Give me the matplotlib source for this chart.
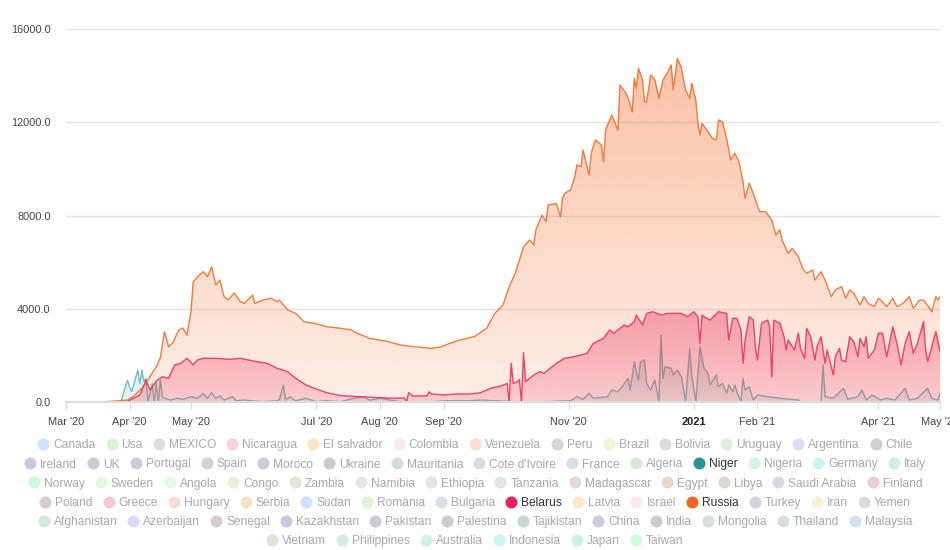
import numpy as np
import matplotlib
matplotlib.use('Agg')
import matplotlib.pyplot as plt
import matplotlib.dates as mdates
from matplotlib.colors import to_rgb
from matplotlib.lines import Line2D

plt.rcParams['font.family'] = ['Liberation Sans', 'DejaVu Sans']

START = np.datetime64('2020-03-01')

# ---------------- data (days since 2020-03-01, daily new cases) ----------------
russia_days = [0, 10, 17, 20, 24, 27, 30, 33, 36, 39, 41, 44, 46, 48, 50, 52, 55, 57, 59, 61, 62, 65, 67, 69, 71, 73,
               75, 77, 79, 82, 85, 87, 91, 92, 96, 100, 103, 104, 108, 112, 116, 121, 127, 134, 139, 142, 148, 157,
               163, 170, 178, 183, 187, 192, 199, 205, 209, 213, 216, 219, 223, 226, 228, 229, 232, 234, 235, 239,
               241, 242, 243, 246, 248, 249, 251, 252, 255, 256, 258, 261, 262, 263, 265, 266, 269, 270, 273, 274,
               276, 277, 278, 279, 281, 282, 283, 285, 287, 289, 291, 293, 295, 296, 298, 300, 301, 302, 304, 305,
               307, 308, 309, 310, 313, 315, 317, 318, 320, 322, 324, 326, 328, 330, 331, 333, 335, 338, 341, 344,
               346, 348, 349, 352, 354, 357, 359, 361, 364, 365, 368, 370, 373, 375, 378, 380, 382, 384, 387, 389,
               391, 394, 396, 398, 400, 403, 405, 408, 411, 413, 416, 418, 421, 422, 424, 425, 426]
russia_vals = [0, 5, 10, 20, 40, 60, 86, 250, 500, 800, 1100, 1515, 1900, 3016, 2370, 2530, 3090, 3170, 2870, 3950,
               5160, 5450, 5590, 5375, 5800, 5020, 5230, 4520, 4375, 4675, 4300, 4230, 4590, 4230, 4375, 4450, 4300,
               4375, 3950, 3800, 3445, 3375, 3230, 3160, 3090, 2950, 2730, 2590, 2445, 2370, 2300, 2370, 2515, 2660,
               2800, 3160, 3800, 4160, 4950, 5520, 6660, 6950, 6735, 7380, 8020, 7735, 8450, 8520, 7950, 8740, 8950,
               9095, 9665, 10170, 10095, 10810, 9740, 10670, 11240, 11025, 10310, 11670, 12100, 12310, 11670, 13600,
               13240, 13030, 12450, 13890, 13460, 14320, 13815, 12880, 12880, 14030, 13815, 13030, 13815, 14100,
               14460, 13385, 14745, 14320, 13815, 13385, 13030, 13675, 12950, 11955, 11455, 11955, 11595, 11310,
               11240, 12100, 12025, 11310, 10380, 10670, 10310, 9450, 8740, 9380, 8950, 8165, 8165, 7810, 7165,
               7380, 6950, 6380, 6590, 6230, 5735, 5520, 5660, 5230, 5590, 5230, 4520, 4805, 4950, 4450, 4805, 4660,
               4160, 4520, 4230, 4090, 4450, 4300, 4090, 4450, 4090, 4230, 4520, 4020, 4375, 4375, 4020, 3875, 4520,
               4375, 4520]

belarus_days = [0, 25, 30, 36, 39, 41, 44, 47, 50, 53, 56, 59, 62, 64, 67, 73, 80, 85, 93, 98, 103, 108, 112, 117,
                121, 127, 134, 143, 153, 161, 165, 166, 167, 169, 176, 177, 178, 184, 191, 197, 202, 207, 212, 215,
                216, 217, 218, 220, 221, 222, 223, 224, 226, 228, 231, 233, 236, 239, 243, 246, 251, 254, 257, 262,
                265, 267, 270, 272, 274, 277, 278, 281, 283, 286, 290, 293, 300, 303, 306, 308, 309, 310, 311, 314,
                318, 322, 323, 325, 327, 329, 330, 331, 333, 335, 336, 337, 339, 342, 343, 344, 345, 348, 350, 351,
                352, 355, 357, 358, 360, 361, 363, 365, 366, 368, 370, 371, 374, 375, 377, 378, 380, 382, 384, 386,
                387, 389, 390, 391, 394, 396, 398, 400, 403, 405, 407, 409, 411, 413, 415, 418, 419, 420, 422, 424,
                426]
belarus_vals = [0, 0, 30, 300, 940, 515, 900, 1085, 1015, 1590, 1660, 1875, 1590, 1800, 1875, 1875, 1830, 1875, 1730,
                1660, 1445, 1300, 1015, 730, 590, 400, 270, 230, 185, 160, 170, 0, 400, 260, 260, 440, 345, 300, 345,
                345, 400, 590, 685, 800, 0, 1660, 800, 870, 970, 0, 2115, 870, 1015, 1160, 1300, 1230, 1445, 1660,
                1875, 1915, 2015, 2090, 2515, 2730, 3090, 2950, 3160, 3300, 3230, 3445, 3730, 3300, 3800, 3875, 3730,
                3800, 3800, 3660, 3875, 3660, 2515, 3730, 3660, 3515, 3875, 3800, 2660, 3590, 3590, 3090, 1660, 2660,
                3660, 3515, 2370, 1800, 3375, 3515, 3230, 1085, 3515, 3375, 2800, 2230, 2660, 2230, 2950, 2300, 1875,
                3160, 2800, 1800, 2370, 2800, 1660, 2230, 1160, 1945, 2300, 1800, 1730, 2800, 2590, 1945, 2730, 2370,
                2800, 1875, 2230, 2950, 2950, 1945, 3230, 2515, 1590, 2515, 3016, 2090, 2515, 3445, 2230, 1730, 2370,
                3016, 2160]

niger_days = [0, 25, 27, 30, 31, 32, 35, 36, 37, 38, 39, 40, 42, 43, 44, 45, 46, 47, 48, 51, 54, 57, 61, 64, 67, 69,
              71, 73, 75, 77, 81, 83, 87, 90, 96, 103, 104, 106, 107, 109, 112, 117, 122, 127, 134, 140, 145, 148,
              153, 163, 170, 179, 186, 197, 202, 218, 235, 246, 249, 252, 255, 257, 261, 264, 266, 269, 271, 274,
              275, 277, 278, 279, 280, 282, 283, 285, 287, 289, 290, 291, 292, 295, 296, 298, 300, 302, 304, 305,
              307, 309, 311, 313, 314, 317, 318, 320, 322, 323, 325, 326, 327, 329, 330, 331, 333, 335, 337, 342,
              348, 357, 358, 368, 369, 370, 374, 379, 381, 386, 388, 390, 393, 397, 400, 404, 409, 411, 415, 420,
              422, 425, 426]
niger_vals = [0, 0, 86, 940, 655, 440, 1370, 800, 1370, 870, 1015, 0, 800, 0, 800, 0, 940, 230, 160, 85, 160, 115, 230,
              160, 370, 160, 400, 160, 260, 85, 230, 55, 85, 55, 15, 55, 100, 730, 85, 230, 55, 160, 15, 55, 15, 160,
              230, 80, 160, 15, 15, 15, 55, 55, 85, 15, 15, 55, 230, 115, 370, 160, 200, 230, 515, 440, 655, 1015,
              515, 1730, 1300, 940, 1730, 1800, 800, 515, 940, 15, 2875, 1015, 1515, 1445, 1160, 1370, 1085, 15,
              2300, 1160, 15, 2370, 1445, 1230, 730, 1160, 655, 800, 370, 730, 440, 730, 440, 0, 1015, 515, 655, 85,
              300, 230, 160, 85, 0, 0, 1590, 230, 160, 590, 115, 230, 515, 85, 300, 85, 160, 85, 590, 85, 160, 590,
              160, 85, 370]

# axis ticks
x_tick_dates = ['2020-03-01', '2020-04-01', '2020-05-01', '2020-07-01', '2020-08-01', '2020-09-01',
                '2020-11-01', '2021-01-01', '2021-02-01', '2021-04-01', '2021-05-01']
x_tick_labels = ["Mar '20", "Apr '20", "May '20", "Jul '20", "Aug '20", "Sep '20",
                 "Nov '20", "2021", "Feb '21", "Apr '21", "May '21"]
y_ticks = [0, 4000, 8000, 12000, 16000]

# legend
countries = ['Canada', 'Usa', 'MEXICO', 'Nicaragua', 'El salvador', 'Colombia', 'Venezuela', 'Peru', 'Brazil',
             'Bolivia', 'Uruguay', 'Argentina', 'Chile',
             'Ireland', 'UK', 'Portugal', 'Spain', 'Moroco', 'Ukraine', 'Mauritania', "Cote d'Ivoire", 'France',
             'Algeria', 'Niger', 'Nigeria', 'Germany', 'Italy',
             'Norway', 'Sweden', 'Angola', 'Congo', 'Zambia', 'Namibia', 'Ethiopia', 'Tanzania', 'Madagascar',
             'Egypt', 'Libya', 'Saudi Arabia', 'Finland',
             'Poland', 'Greece', 'Hungary', 'Serbia', 'Sudan', 'Romania', 'Bulgaria', 'Belarus', 'Latvia', 'Israel',
             'Russia', 'Turkey', 'Iran', 'Yemen',
             'Afghanistan', 'Azerbaijan', 'Senegal', 'Kazakhstan', 'Pakistan', 'Palestina', 'Tajikistan', 'China',
             'India', 'Mongolia', 'Thailand', 'Malaysia',
             'Vietnam', 'Philippines', 'Australia', 'Indonesia', 'Japan', 'Taiwan']
legend_colors = ['#cfe3fb', '#d9f5d0', '#d8dfe0', '#f9cede', '#fde5c4', '#fde8ea', '#fde0d4', '#d6d3e0', '#fbf0d8',
                 '#e0dadb', '#dcefd8', '#dcdcfc', '#d8cccb',
                 '#c9c9df', '#cccad6', '#cfcbda', '#c9d6d3', '#cfcad9', '#cbcbcb', '#d3ded3', '#d3dedd', '#d5e0ea',
                 '#d5e8d3', '#2a9590', '#d3f6e0', '#cdf4f5', '#c9f3df',
                 '#ccfbdc', '#e0fbd8', '#e3fde3', '#e8f3d3', '#e7e6d3', '#e6e6e6', '#e6e6db', '#dde8dd', '#e9d5d8',
                 '#ecd5c9', '#e0d5d5', '#e0d5e4', '#ecccd6',
                 '#ddc9d2', '#f5c9d3', '#f5ddd2', '#f3e3c4', '#cfe2fc', '#dcf4d3', '#dbe0e5', '#e91e63', '#fde8c7',
                 '#fdeaee', '#f4661f', '#d5d3e0', '#faf0d6', '#dedada',
                 '#d5ead5', '#d9d9fc', '#d8cbcb', '#c9c9e0', '#cdcbd8', '#cfcad9', '#c9d6d3', '#cdcbdb', '#cbcbcb',
                 '#d3dfd3', '#d2dfe0', '#d5e0ea',
                 '#d4e8d3', '#d4e9e8', '#d0f4df', '#ccf4f5', '#ccf5e0', '#cffddc']
selected = ['Niger', 'Belarus', 'Russia']

NIGER_C = '#2a9590'
BELARUS_C = '#e91e63'
RUSSIA_C = '#f4661f'

# ---------------- figure ----------------
W, H = 950, 550
fig = plt.figure(figsize=(W / 100, H / 100), dpi=100)
ax = fig.add_axes([66 / W, (H - 402) / H, 874 / W, 373 / H])


def to_dates(days):
    return mdates.date2num(START + np.array(days, dtype='timedelta64[D]'))


def gradient_area(x, y, color, a_top, a_bot, z):
    poly = ax.fill_between(x, y, 0, facecolor='none', edgecolor='none', zorder=z)
    r, g, b = to_rgb(color)
    n = 256
    img = np.zeros((n, 1, 4))
    img[..., 0] = r
    img[..., 1] = g
    img[..., 2] = b
    img[:, 0, 3] = np.linspace(a_bot, a_top, n)
    im = ax.imshow(img, extent=[x[0], x[-1], 0, max(y)], origin='lower', aspect='auto',
                   zorder=z, interpolation='bilinear')
    im.set_clip_path(poly.get_paths()[0], transform=ax.transData)


series = [
    (niger_days, niger_vals, NIGER_C, 0.26, 0.10, 0.6),
    (belarus_days, belarus_vals, BELARUS_C, 0.38, 0.17, 0.85),
    (russia_days, russia_vals, RUSSIA_C, 0.40, 0.11, 0.85),
]
z = 2
for days, vals, col, at, ab, la in series:
    xd = to_dates(days)
    gradient_area(xd, vals, col, at, ab, z)
    ax.plot(xd, vals, color=col, lw=1.0, zorder=z + 0.5, alpha=la)
    z += 1

ax.set_xlim(mdates.date2num(np.datetime64('2020-03-01')), mdates.date2num(np.datetime64('2021-05-01')))
ax.set_ylim(0, 16000)

# y axis
ax.set_yticks(y_ticks)
ax.set_yticklabels([f'{v:.1f}' for v in y_ticks], fontsize=7.9, color='#444')
ax.yaxis.grid(True, color='#e3e3e3', lw=1.0, zorder=0)
ax.tick_params(axis='y', length=0, pad=11)

# x axis
xt = mdates.date2num(np.array(x_tick_dates, dtype='datetime64[D]'))
ax.set_xticks(xt)
ax.set_xticklabels(x_tick_labels, fontsize=7.9, color='#444')
for lbl in ax.get_xticklabels():
    if lbl.get_text() == '2021':
        lbl.set_fontweight('bold')
        lbl.set_color('#222')
ax.tick_params(axis='x', length=5, color='#dcdcdc', width=1.0, pad=6)

for s in ['top', 'right', 'left']:
    ax.spines[s].set_visible(False)
ax.spines['bottom'].set_color('#dcdcdc')
ax.spines['bottom'].set_linewidth(1.5)
ax.spines['bottom'].set_zorder(10)
ax.set_axisbelow(True)

# ---------------- legend (manual, centered rows) ----------------
renderer = fig.canvas.get_renderer()
fs = 8.64
marker_d = 12
gap_text = 4
item_gap = 10
avail = 935

widths = []
for name in countries:
    t = fig.text(0, 0, name, fontsize=fs)
    widths.append(t.get_window_extent(renderer).width)
    t.remove()

rows = []
cur = []
cur_w = 0
for i, w in enumerate(widths):
    iw = marker_d + gap_text + w
    add = iw if not cur else item_gap + iw
    if cur and cur_w + add > avail:
        rows.append(cur)
        cur = [i]
        cur_w = iw
    else:
        cur.append(i)
        cur_w += add
if cur:
    rows.append(cur)

row_y0 = 444
row_dy = 19.2
for r, idxs in enumerate(rows):
    total = sum(marker_d + gap_text + widths[i] for i in idxs) + item_gap * (len(idxs) - 1)
    x = (W - total) / 2
    y = row_y0 + r * row_dy
    for i in idxs:
        name = countries[i]
        sel = name in selected
        fig.add_artist(Line2D([(x + marker_d / 2) / W], [1 - y / H], marker='o', markersize=marker_d * 0.72,
                              markeredgewidth=0, color=legend_colors[i], transform=fig.transFigure))
        fig.text((x + marker_d + gap_text) / W, 1 - (y + 4.3) / H, name, fontsize=fs,
                 color='#333' if sel else '#a8a8a8', va='baseline', ha='left')
        x += marker_d + gap_text + widths[i] + item_gap

fig.savefig('out.png', dpi=100)
